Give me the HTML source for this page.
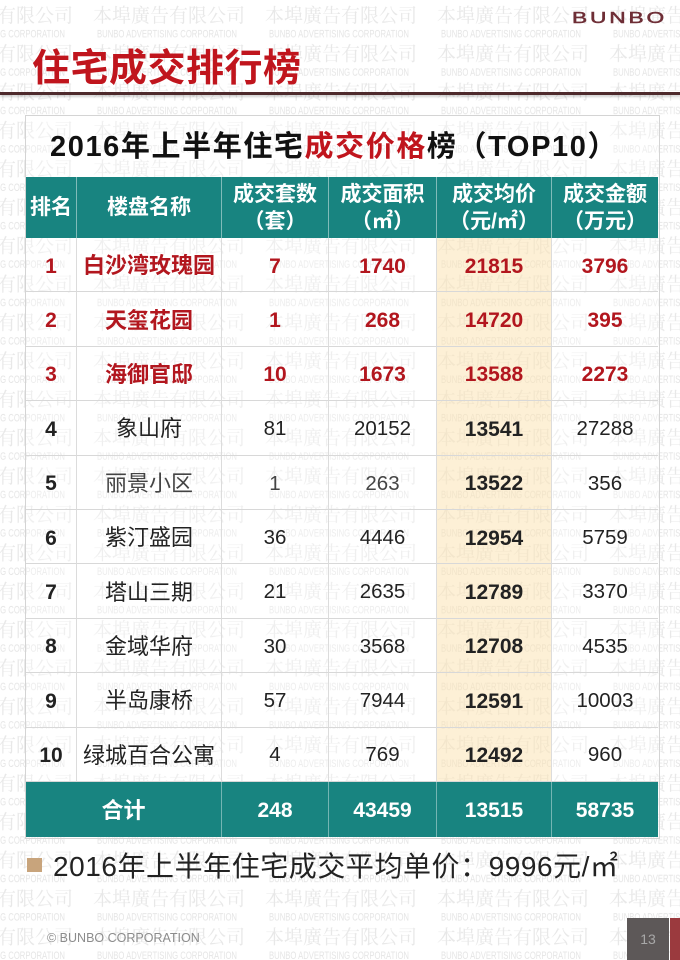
<!DOCTYPE html>
<html>
<head>
<meta charset="utf-8">
<style>
  html,body{margin:0;padding:0;}
  body{width:680px;height:960px;position:relative;overflow:hidden;background:#fff;
       font-family:"Liberation Sans","Noto Sans CJK SC",sans-serif;}
  .abs{position:absolute;}
  .wm{position:absolute;left:0;top:0;}
  .title{left:32px;top:44px;font-size:38px;line-height:50px;font-weight:700;color:#c0151d;letter-spacing:0.5px;white-space:nowrap;}
  .rule{left:0;top:92px;width:680px;height:3px;background:#4e2a2c;box-shadow:0 2px 2px rgba(0,0,0,0.18);}
  .logo{left:572px;top:9px;font-size:16px;line-height:20px;letter-spacing:2px;color:#6e2e36;white-space:nowrap;-webkit-text-stroke:0.5px #6e2e36;transform:scaleX(1.42);transform-origin:0 0;}
  .box{left:25px;top:115px;width:633px;height:722px;border:1px solid #d4d4d4;background:rgba(255,255,255,0.3);}
  .heading{left:50px;top:127px;font-size:29px;line-height:40px;font-weight:700;color:#111;letter-spacing:1.6px;white-space:nowrap;}
  .heading .r{color:#c0151d;}
  .tbl{position:absolute;left:26px;top:177px;width:632px;display:grid;
       grid-template-columns:51px 145px 107px 108px 115px 106px;
       grid-template-rows:61px repeat(10,54.4px) 55px;}
  .c{box-sizing:border-box;display:flex;align-items:center;justify-content:center;text-align:center;
     border-right:1px solid #dcdcdc;border-bottom:1px solid #d8d8d8;white-space:nowrap;
     font-size:20.5px;color:#222;line-height:1;padding-top:3px;}
  .c.last{border-right:none;}
  .h{background:#188480;color:#fff;font-weight:700;font-size:21px;line-height:27px;border-right:1px solid rgba(255,255,255,0.45);border-bottom:none;padding-top:0;}
  .h.last{border-right:none;}
  .t{background:#188480;color:#fff;font-weight:700;font-size:21px;border-right:1px solid rgba(255,255,255,0.4);border-bottom:none;}
  .t.last{border-right:none;}
  .t.name{font-size:22px;}
  .hl{background:rgba(250,214,140,0.36);}
  .b{font-weight:700;font-size:21px;}
  .red{color:#b2161e;font-weight:700;font-size:21px;}
  .nm{font-size:22px;}
  .nm.red{font-size:22px;}
  .g{color:#444;}
  .bullet{left:27px;top:858px;width:15px;height:14px;background:#c8a47c;}
  .note{left:53px;top:847px;font-size:28px;line-height:40px;color:#222;white-space:nowrap;letter-spacing:0.55px;}
  .foot{left:47px;top:928px;font-size:12.5px;line-height:20px;color:#8c8c8c;white-space:nowrap;}
  .pg{left:627px;top:918px;width:42px;height:42px;background:#5d5858;color:#a8a8a8;font-size:14px;line-height:42px;text-align:center;}
  .pgr{left:670px;top:918px;width:10px;height:42px;background:#9b3a3e;}
</style>
</head>
<body>
<svg class="wm" width="680" height="960" xmlns="http://www.w3.org/2000/svg">
  <pattern id="wmp" x="93" y="3" width="172" height="38.4" patternUnits="userSpaceOnUse">
    <text x="0" y="19" font-family="'Noto Serif CJK SC','Noto Serif CJK TC',serif" font-size="19" fill="#e8e8e8">本埠廣告有限公司</text>
    <text x="4" y="34.5" font-family="'Liberation Sans',sans-serif" font-size="11" textLength="140" lengthAdjust="spacingAndGlyphs" fill="#e5e5e5">BUNBO ADVERTISING CORPORATION</text>
  </pattern>
  <rect x="0" y="0" width="680" height="960" fill="url(#wmp)"/>
</svg>

<div class="abs logo">BUNBO</div>
<div class="abs title">住宅成交排行榜</div>
<div class="abs rule"></div>

<div class="abs box"></div>
<div class="abs heading">2016年上半年住宅<span class="r">成交价格</span>榜（TOP10）</div>

<div class="tbl">
  <div class="c h">排名</div>
  <div class="c h">楼盘名称</div>
  <div class="c h">成交套数<br>（套）</div>
  <div class="c h">成交面积<br>（㎡）</div>
  <div class="c h">成交均价<br>（元/㎡）</div>
  <div class="c h last">成交金额<br>（万元）</div>

  <div class="c red">1</div>
  <div class="c red nm">白沙湾玫瑰园</div>
  <div class="c red">7</div>
  <div class="c red">1740</div>
  <div class="c red hl">21815</div>
  <div class="c red last">3796</div>

  <div class="c red">2</div>
  <div class="c red nm">天玺花园</div>
  <div class="c red">1</div>
  <div class="c red">268</div>
  <div class="c red hl">14720</div>
  <div class="c red last">395</div>

  <div class="c red">3</div>
  <div class="c red nm">海御官邸</div>
  <div class="c red">10</div>
  <div class="c red">1673</div>
  <div class="c red hl">13588</div>
  <div class="c red last">2273</div>

  <div class="c b">4</div>
  <div class="c nm">象山府</div>
  <div class="c">81</div>
  <div class="c">20152</div>
  <div class="c b hl">13541</div>
  <div class="c last">27288</div>

  <div class="c b">5</div>
  <div class="c nm g">丽景小区</div>
  <div class="c g">1</div>
  <div class="c g">263</div>
  <div class="c b hl">13522</div>
  <div class="c last">356</div>

  <div class="c b">6</div>
  <div class="c nm">紫汀盛园</div>
  <div class="c">36</div>
  <div class="c">4446</div>
  <div class="c b hl">12954</div>
  <div class="c last">5759</div>

  <div class="c b">7</div>
  <div class="c nm">塔山三期</div>
  <div class="c">21</div>
  <div class="c">2635</div>
  <div class="c b hl">12789</div>
  <div class="c last">3370</div>

  <div class="c b">8</div>
  <div class="c nm">金域华府</div>
  <div class="c">30</div>
  <div class="c">3568</div>
  <div class="c b hl">12708</div>
  <div class="c last">4535</div>

  <div class="c b">9</div>
  <div class="c nm">半岛康桥</div>
  <div class="c">57</div>
  <div class="c">7944</div>
  <div class="c b hl">12591</div>
  <div class="c last">10003</div>

  <div class="c b">10</div>
  <div class="c nm">绿城百合公寓</div>
  <div class="c">4</div>
  <div class="c">769</div>
  <div class="c b hl">12492</div>
  <div class="c last">960</div>

  <div class="c t name" style="grid-column:1 / span 2;">合计</div>
  <div class="c t">248</div>
  <div class="c t">43459</div>
  <div class="c t">13515</div>
  <div class="c t last">58735</div>
</div>

<div class="abs bullet"></div>
<div class="abs note">2016年上半年住宅成交平均单价：9996元/㎡</div>

<div class="abs foot">© BUNBO CORPORATION</div>
<div class="abs pg">13</div>
<div class="abs pgr"></div>
</body>
</html>
